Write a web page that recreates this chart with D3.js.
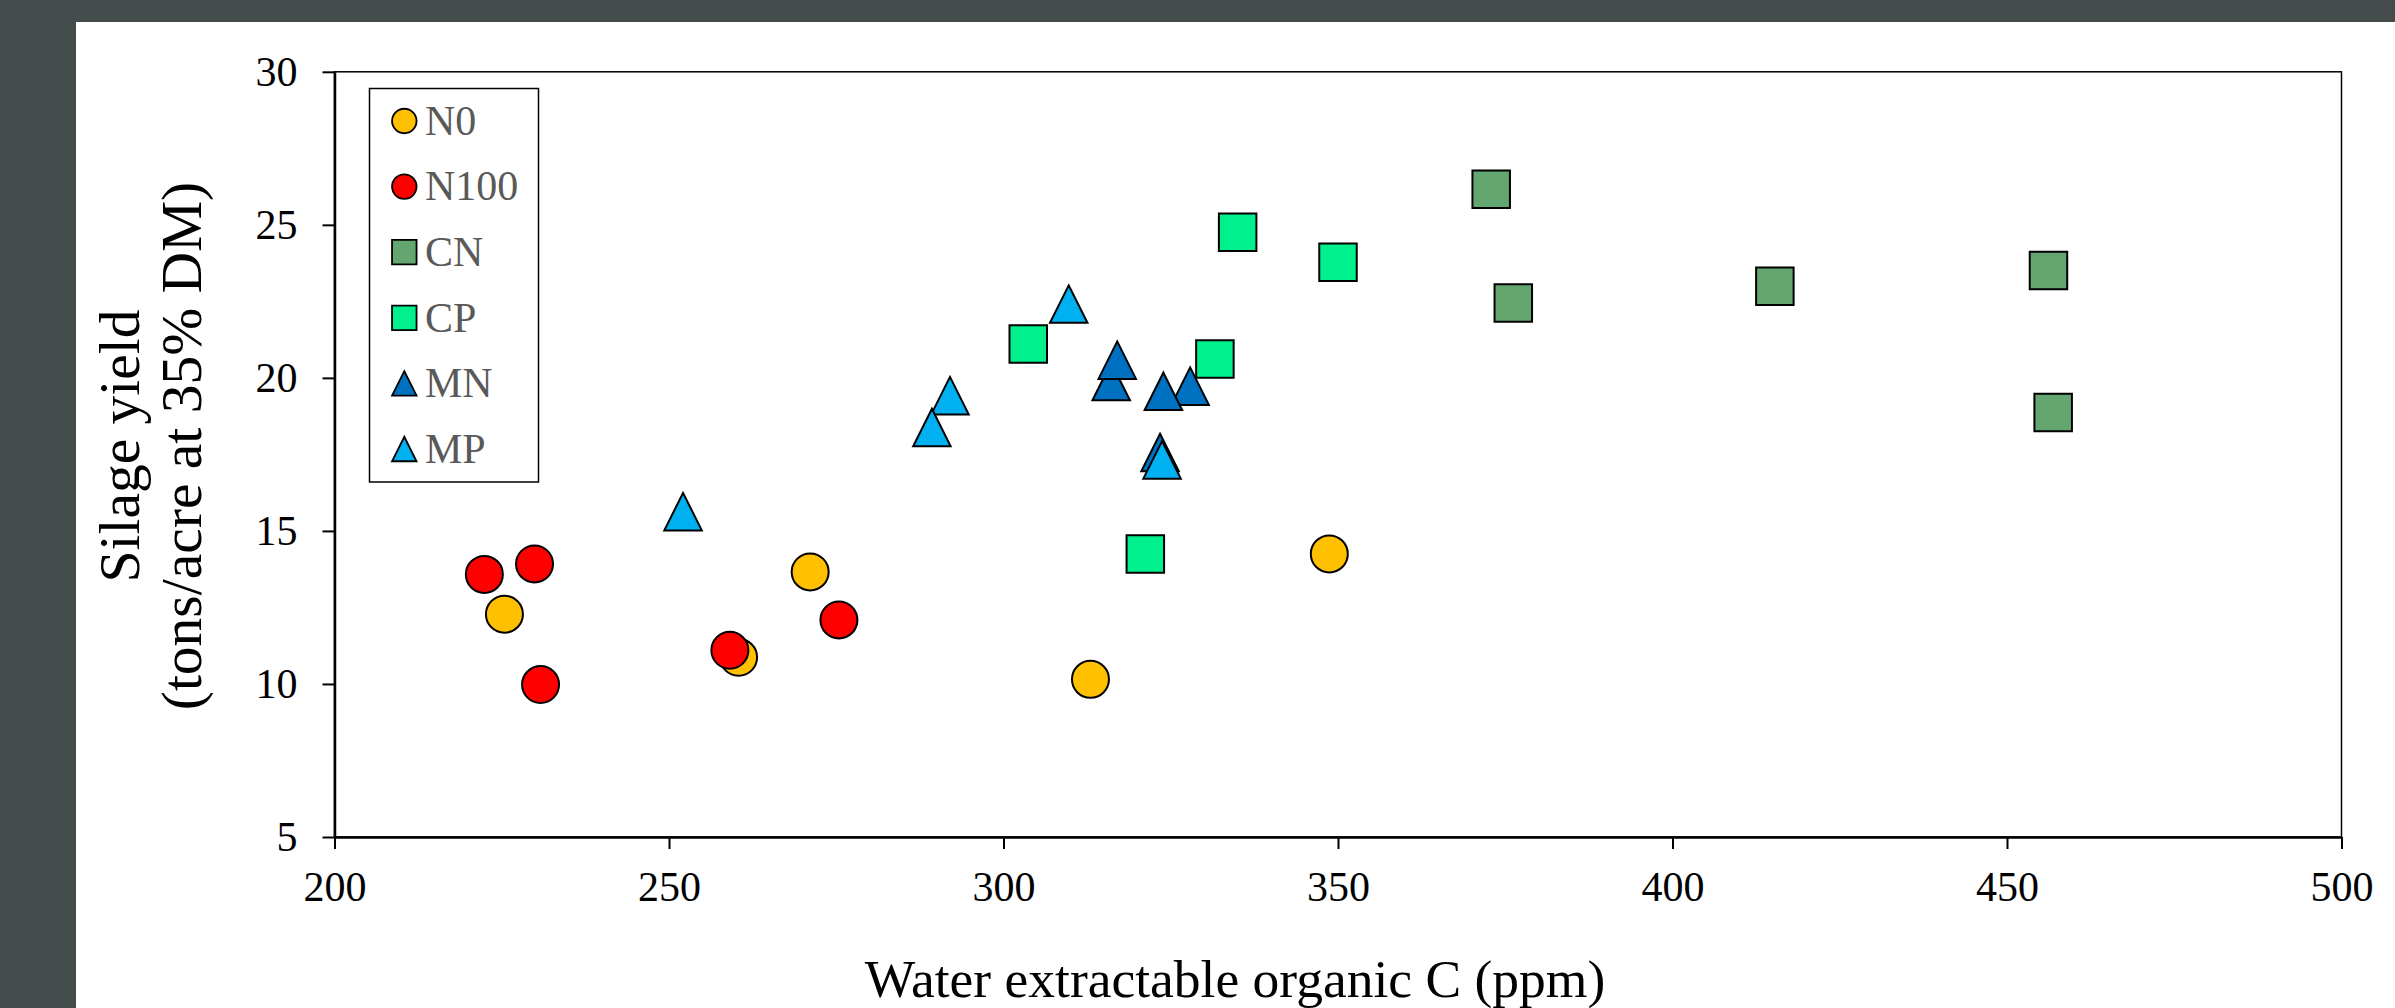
<!DOCTYPE html>
<html>
<head>
<meta charset="utf-8">
<script src="https://cdn.jsdelivr.net/npm/d3@7"></script>
<style>
  body { margin: 0; background: #434c4b; }
  text { font-family: "Liberation Serif", "Times New Roman", serif; }
</style>
</head>
<body>
<div id="scatter"></div>
<script>
// series names + colours
var seriesNames = ["N0", "N100", "CN", "CP", "MN", "MP"];
var seriesColors = ["#ffc000", "#ff0000", "#63a66f", "#00f08e", "#0070c0", "#00b0f0"];
var seriesShapes = ["circle", "circle", "square", "square", "triangle", "triangle"];

// values (x = WEOC ppm, y = silage yield)
var n0X = [225.4, 260.4, 271.1, 313.0, 348.7];
var n0Y = [12.28, 10.87, 13.66, 10.15, 14.25];
var n100X = [222.4, 229.9, 230.8, 259.1, 275.4];
var n100Y = [13.58, 13.92, 9.98, 11.10, 12.09];
var cnX = [372.9, 376.2, 415.3, 456.2, 456.9];
var cnY = [26.16, 22.45, 22.99, 23.51, 18.87];
var cpX = [303.7, 321.2, 331.6, 335.0, 350.0];
var cpY = [21.11, 14.25, 20.62, 24.76, 23.78];
var mnX = [316.1, 317.0, 327.9, 323.9, 323.4];
var mnY = [19.88, 20.58, 19.73, 19.56, 17.56];
var mpX = [252.1, 292.0, 289.3, 309.75, 323.7];
var mpY = [15.63, 19.42, 18.38, 22.41, 17.32];

// tick values
var xTicks = [200, 250, 300, 350, 400, 450, 500];
var yTicks = [5, 10, 15, 20, 25, 30];

var allX = [n0X, n100X, cnX, cpX, mnX, mpX];
var allY = [n0Y, n100Y, cnY, cpY, mnY, mpY];

var serif = "'Liberation Serif', 'Times New Roman', serif";

var width = 2395;
var height = 1008;

// plot area edges
var plotLeft = 334.5;
var plotRight = 2341.5;
var plotTop = 71.8;
var plotBottom = 837;

var svg = d3
  .select("#scatter")
  .append("svg")
  .attr("width", width)
  .attr("height", height)
  .style("display", "block");

// white chart panel on the dark background
svg.append("rect")
  .attr("x", 76)
  .attr("y", 22)
  .attr("width", width - 76)
  .attr("height", height - 22)
  .attr("fill", "#ffffff");

var xScale = d3.scaleLinear().domain([200, 500]).range([plotLeft, plotRight]);
var yScale = d3.scaleLinear().domain([5, 30]).range([plotBottom, plotTop]);

// plot area border (top + right)
svg.append("rect")
  .attr("x", plotLeft)
  .attr("y", plotTop)
  .attr("width", plotRight - plotLeft)
  .attr("height", plotBottom - plotTop)
  .attr("fill", "none")
  .attr("stroke", "#000")
  .attr("stroke-width", 1.5);

// x axis
var xAxis = svg.append("g")
  .attr("transform", "translate(0," + plotBottom + ")")
  .call(d3.axisBottom(xScale).tickValues(xTicks).tickSize(12).tickPadding(22).tickSizeOuter(0));

// y axis
var yAxis = svg.append("g")
  .attr("transform", "translate(" + plotLeft + ",0)")
  .call(d3.axisLeft(yScale).tickValues(yTicks).tickSize(12).tickPadding(25).tickSizeOuter(0));

[xAxis, yAxis].forEach(function(ax) {
  ax.attr("font-family", serif).attr("font-size", 42);
  ax.select(".domain").attr("stroke", "#000").attr("stroke-width", 2.5);
  ax.selectAll(".tick line").attr("stroke", "#000").attr("stroke-width", 2);
  ax.selectAll(".tick text")
    .attr("fill", "#000")
    .style("font-family", serif)
    .style("font-size", "42px");
});

// marker path for each shape, size = full width in px
function markerPath(shape, s) {
  var h = s / 2;
  if (shape === "circle") {
    return "M" + (-h) + ",0A" + h + "," + h + " 0 1,0 " + h + ",0A" + h + "," + h + " 0 1,0 " + (-h) + ",0Z";
  }
  if (shape === "square") {
    return "M" + (-h) + "," + (-h) + "H" + h + "V" + h + "H" + (-h) + "Z";
  }
  return "M0," + (-h) + "L" + h + "," + h + "H" + (-h) + "Z";
}

// points, one group per series (later series on top)
seriesNames.forEach(function(name, i) {
  var pts = allX[i].map(function(x, j) { return { x: x, y: allY[i][j] }; });
  svg.append("g")
    .attr("class", "series")
    .selectAll("path")
    .data(pts)
    .enter()
    .append("path")
    .attr("transform", function(d) { return "translate(" + xScale(d.x) + "," + yScale(d.y) + ")"; })
    .attr("d", markerPath(seriesShapes[i], seriesShapes[i] === "circle" ? 37 : 37.5))
    .attr("fill", seriesColors[i])
    .attr("stroke", "#000")
    .attr("stroke-width", 2);
});

// legend box
var legend = svg.append("g").attr("class", "legend");
legend.append("rect")
  .attr("x", 369.5)
  .attr("y", 88.5)
  .attr("width", 169)
  .attr("height", 393.5)
  .attr("fill", "#fff")
  .attr("stroke", "#000")
  .attr("stroke-width", 1.5);

var legendRow = d3.scalePoint().domain(seriesNames).range([121, 449]);

seriesNames.forEach(function(name, i) {
  var cy = legendRow(name);
  legend.append("path")
    .attr("transform", "translate(404.3," + cy + ")")
    .attr("d", markerPath(seriesShapes[i], 24.5))
    .attr("fill", seriesColors[i])
    .attr("stroke", "#000")
    .attr("stroke-width", 1.8);
  legend.append("text")
    .attr("x", 425)
    .attr("y", cy)
    .attr("dy", "0.33em")
    .attr("fill", "#595959")
    .style("font-size", "42px")
    .text(name);
});

// axis titles
svg.append("text")
  .attr("x", 1235)
  .attr("y", 997)
  .attr("text-anchor", "middle")
  .attr("fill", "#000")
  .style("font-size", "53.5px")
  .text("Water extractable organic C (ppm)");

var yTitle = svg.append("text")
  .attr("transform", "translate(0,446)rotate(-90)")
  .attr("text-anchor", "middle")
  .attr("fill", "#000")
  .style("font-size", "57.5px");
yTitle.append("tspan").attr("x", 0).attr("y", 139).text("Silage yield");
yTitle.append("tspan").attr("x", 0).attr("y", 201).text("(tons/acre at 35% DM)");
</script>
</body>
</html>
